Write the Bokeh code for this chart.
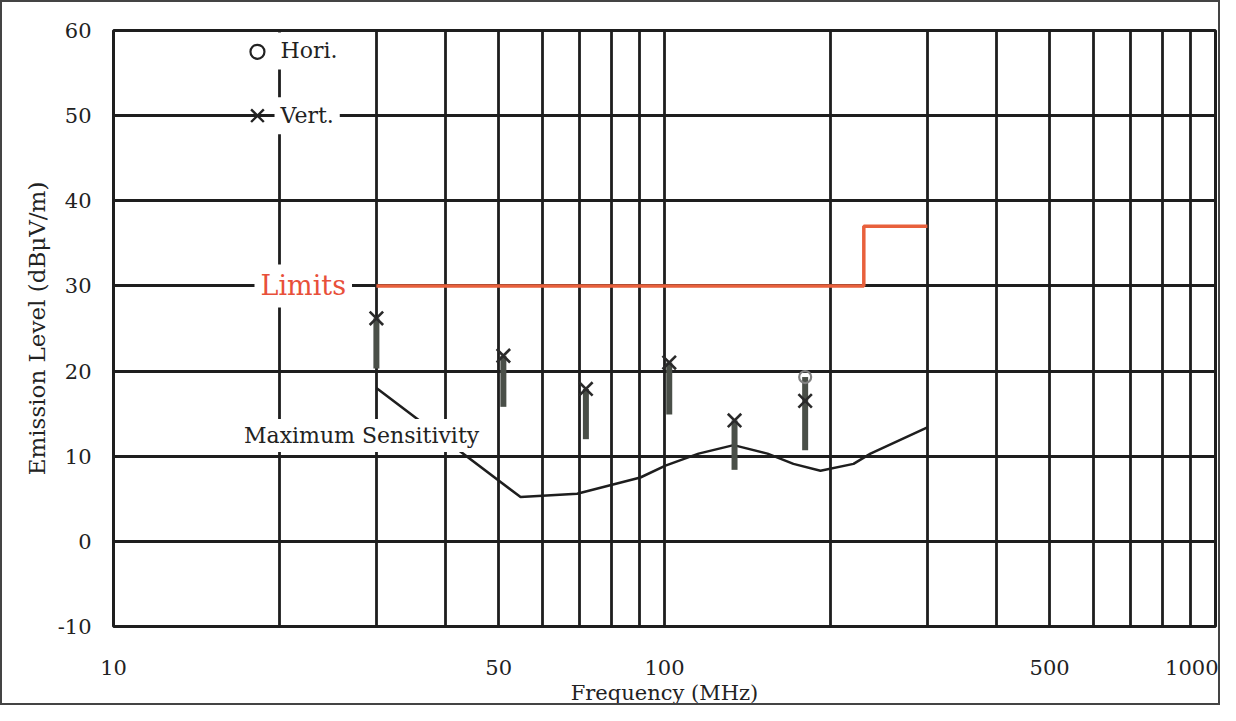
from bokeh.plotting import figure
from bokeh.models import FixedTicker, Label, NumeralTickFormatter
from bokeh.embed import file_html
from bokeh.resources import INLINE

# ---- data ----
x_ticks = [10, 50, 100, 500, 1000]
x_grid = [10, 20, 30, 40, 50, 60, 70, 80, 90, 100, 200, 300, 400, 500, 600, 700, 800, 900, 1000]
y_ticks = [-10, 0, 10, 20, 30, 40, 50, 60]

limit_freq = [30, 230, 230, 300]
limit_level = [30, 30, 37, 37]

sens_freq = [30, 54.8, 69.4, 90.4, 100.4, 115.3, 133.5, 153.8, 171.4, 191.9, 220.3, 236.5, 300]
sens_level = [18.0, 5.2, 5.6, 7.5, 8.9, 10.3, 11.3, 10.3, 9.1, 8.3, 9.1, 10.3, 13.4]

emis_freq = [30, 51, 72, 102, 134, 180]
vert_level = [26.2, 21.8, 17.9, 21.0, 14.2, 16.5]
bar_top = [26.2, 21.8, 17.9, 21.0, 14.2, 19.3]
bar_low = [20.3, 15.8, 12.0, 14.9, 8.4, 10.7]

hori_freq = [180]
hori_level = [19.3]

SERIF = "DejaVu Serif"
GRID = "#1e1e1e"

p = figure(width=1220, height=705, x_axis_type="log", x_range=(10, 1000), y_range=(-10, 60),
           output_backend="svg", toolbar_location=None,
           min_border_left=111, min_border_top=28, min_border_right=7, min_border_bottom=81)
p.styles = {"border": "2px solid #444", "box-sizing": "border-box"}

p.outline_line_color = GRID
p.outline_line_width = 3
p.background_fill_color = "white"
p.border_fill_color = "white"

p.xgrid.ticker = FixedTicker(ticks=x_grid)
p.ygrid.ticker = FixedTicker(ticks=y_ticks)
for g in (p.xgrid, p.ygrid):
    g.grid_line_color = GRID
    g.grid_line_width = 2.8
    g.grid_line_alpha = 1.0

p.xaxis.ticker = FixedTicker(ticks=x_ticks)
p.xaxis.formatter = NumeralTickFormatter(format="0")
p.yaxis.ticker = FixedTicker(ticks=y_ticks)
p.yaxis.formatter = NumeralTickFormatter(format="0")
for ax in (p.xaxis, p.yaxis):
    ax.axis_line_color = None
    ax.major_tick_line_color = None
    ax.minor_tick_line_color = None
    ax.major_label_text_font = SERIF
    ax.major_label_text_font_size = "21px"
    ax.major_label_text_color = "#222"
    ax.axis_label_text_font = SERIF
    ax.axis_label_text_font_style = "normal"
    ax.axis_label_text_color = "#222"

p.xaxis.axis_label = "Frequency (MHz)"
p.xaxis.axis_label_text_font_size = "21px"
p.xaxis.major_label_standoff = 27
p.xaxis.axis_label_standoff = 3
p.yaxis.axis_label = "Emission Level (dBμV/m)"
p.yaxis.axis_label_text_font_size = "23px"
p.yaxis.major_label_standoff = 16
p.yaxis.axis_label_standoff = 5

# limits
p.line(limit_freq, limit_level, line_color="#e8603c", line_width=3.5)
# sensitivity
p.line(sens_freq, sens_level, line_color="#1e1e1e", line_width=2.5)
# bars
p.segment(x0=emis_freq, y0=bar_low, x1=emis_freq, y1=bar_top, line_color="#4a4f48", line_width=6)
# markers
p.scatter(hori_freq, hori_level, marker="circle", size=12, fill_color=None,
          line_color="#808080", line_width=2.2)
p.scatter(emis_freq, vert_level, marker="x", size=19, line_color="#2a2a2a", line_width=2.6)

# legend
p.scatter([18.25], [57.5], marker="circle", size=14, fill_color=None, line_color="#222", line_width=2.2)
p.scatter([18.25], [50], marker="x", size=18, line_color="#222", line_width=2.4)
for txt, yy in (("Hori.", 57.6), ("Vert.", 50)):
    p.add_layout(Label(x=19.6, y=yy, text=txt, text_font=SERIF, text_font_size="22px",
                       text_color="#222", text_baseline="middle", text_align="left",
                       background_fill_color="white", padding=6))

p.add_layout(Label(x=22.1, y=30, text="Limits", text_font=SERIF, text_font_size="27px",
                   text_color="#e8503a", text_baseline="middle", text_align="center",
                   background_fill_color="white", padding=6))
p.add_layout(Label(x=28.2, y=12.43, text="Maximum Sensitivity", text_font=SERIF,
                   text_font_size="22px", text_color="#222", text_baseline="middle",
                   text_align="center", background_fill_color="white", padding=4))

open("out.html", "w").write(file_html(p, INLINE))
